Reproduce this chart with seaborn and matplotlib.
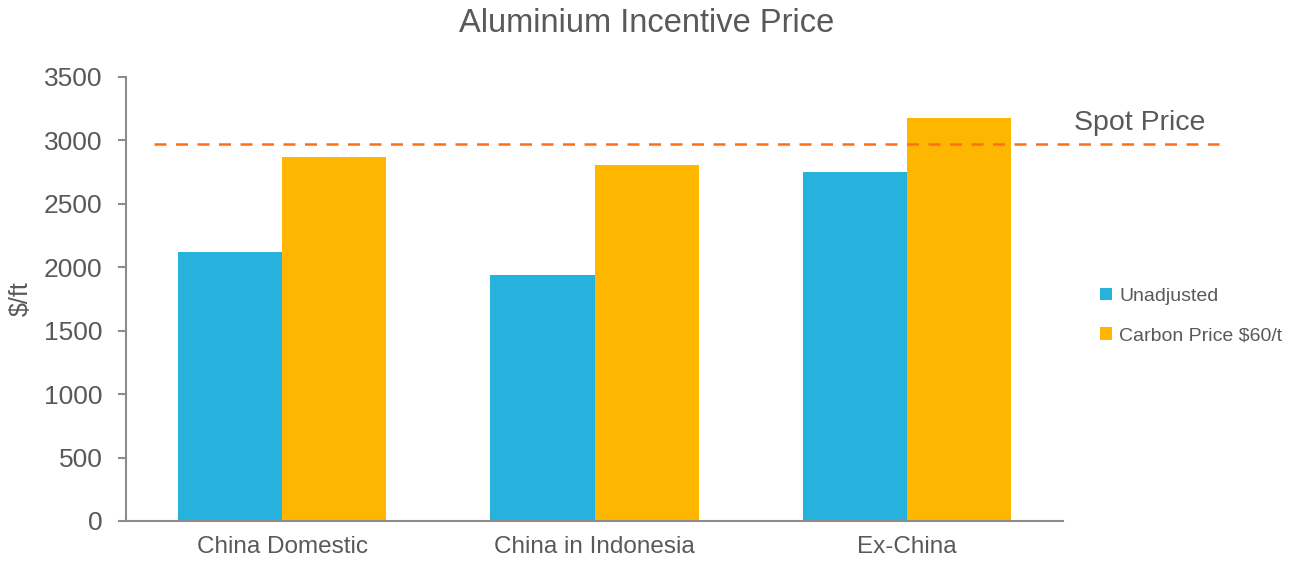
import matplotlib
matplotlib.use("Agg")
import matplotlib.pyplot as plt
import seaborn as sns
import pandas as pd
from matplotlib.patches import Patch

categories = ["China Domestic", "China in Indonesia", "Ex-China"]
series_names = ["Unadjusted", "Carbon Price $60/t"]
unadjusted = [2120, 1940, 2750]
carbon = [2870, 2805, 3175]
spot_price = 2975
yticks = [0, 500, 1000, 1500, 2000, 2500, 3000, 3500]

colors = ["#27B1DD", "#FFB600"]
text_color = "#595959"
spine_color = "#8C8C8C"

sns.set_theme(style="white")
plt.rcParams["font.family"] = ["Liberation Sans", "DejaVu Sans"]

df = pd.DataFrame({
    "category": categories * 2,
    "series": [series_names[0]] * 3 + [series_names[1]] * 3,
    "value": unadjusted + carbon,
})

fig = plt.figure(figsize=(12.94, 5.63), dpi=100)
ax = fig.add_axes([126 / 1294, 1 - 521 / 563, (1235 - 126) / 1294, (521 - 77) / 563])

sns.barplot(data=df, x="category", y="value", hue="series", order=categories,
            hue_order=series_names, palette=colors, saturation=1, width=0.667,
            legend=False, linewidth=0, ax=ax)

ax.set_xlim(-0.5, 3.05)
ax.set_ylim(0, 3500)
ax.set_yticks(yticks)
ax.set_yticklabels([str(v) for v in yticks])

ax.set_xticks(range(len(categories)))
ax.set_xticklabels(categories)
ax.set_xticks([-0.5, 0.5, 1.5, 2.5], minor=True)
ax.tick_params(axis="x", which="major", length=0, pad=11, labelsize=17.5, labelcolor=text_color)
ax.tick_params(axis="x", which="minor", length=6, width=1.5, color=spine_color, direction="out")
ax.tick_params(axis="y", length=6, width=1.5, color=spine_color, direction="out",
               labelsize=19, labelcolor=text_color, pad=11, left=True)

for s in ["top", "right"]:
    ax.spines[s].set_visible(False)
for s in ["left", "bottom"]:
    ax.spines[s].set_color(spine_color)
    ax.spines[s].set_linewidth(1.5)
ax.spines["bottom"].set_bounds(-0.5, 2.5)

ax.set_xlabel("")
ax.set_ylabel("\\$/ft", fontsize=18, color=text_color, labelpad=8)

ax.hlines(spot_price, -0.41, 3.0, colors="#FF6F1A", linestyles=(0, (4.8, 3.8)),
          linewidth=1.8, clip_on=False, zorder=5)
ax.text(2.955, spot_price + 60, "Spot Price", fontsize=20.5, color=text_color,
        ha="right", va="bottom")

fig.suptitle("Aluminium Incentive Price", fontsize=23.5, color=text_color, y=0.985)

handles = [Patch(facecolor=c, edgecolor="none") for c in colors]
fig.legend(handles, ["Unadjusted", "Carbon Price \\$60/t"], loc="center left",
           bbox_to_anchor=(1100 / 1294, 1 - 316 / 563), frameon=False,
           fontsize=14, labelcolor=text_color, handlelength=0.6, handleheight=0.6,
           handletextpad=0.4, labelspacing=1.15, borderpad=0, borderaxespad=0)

fig.savefig("out.png", dpi=100)
